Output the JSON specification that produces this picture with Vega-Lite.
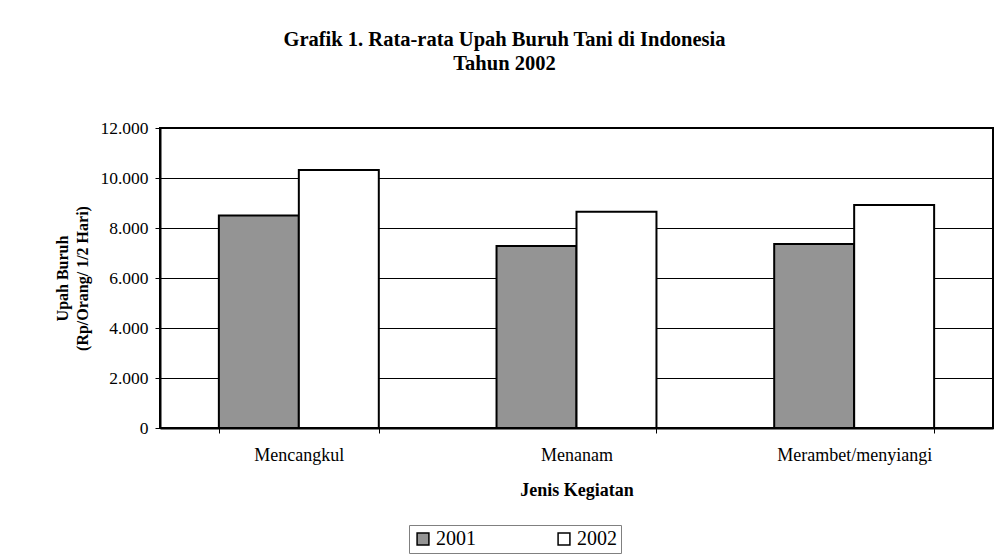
{
  "$schema": "https://vega.github.io/schema/vega-lite/v6.json",
  "width": 833,
  "height": 300,
  "autosize": {"type": "none"},
  "padding": {"left": 160, "top": 128, "right": 10, "bottom": 130},
  "background": "white",
  "title": {
    "text": ["Grafik 1. Rata-rata Upah Buruh Tani di Indonesia", "Tahun 2002"],
    "font": "Liberation Serif",
    "fontSize": 20.5,
    "fontWeight": "bold",
    "color": "black",
    "lineHeight": 24,
    "anchor": "middle",
    "frame": "group",
    "dx": -72,
    "offset": 45
  },
  "data": {
    "values": [
      {"kegiatan": "Mencangkul", "tahun": "2001", "upah": 8500},
      {"kegiatan": "Mencangkul", "tahun": "2002", "upah": 10320},
      {"kegiatan": "Menanam", "tahun": "2001", "upah": 7280},
      {"kegiatan": "Menanam", "tahun": "2002", "upah": 8650},
      {"kegiatan": "Merambet/menyiangi", "tahun": "2001", "upah": 7360},
      {"kegiatan": "Merambet/menyiangi", "tahun": "2002", "upah": 8920}
    ]
  },
  "mark": {"type": "bar", "stroke": "black", "strokeWidth": 2},
  "encoding": {
    "x": {
      "field": "kegiatan",
      "type": "nominal",
      "sort": null,
      "scale": {"paddingInner": 0.424, "paddingOuter": 0.212},
      "axis": {
        "title": "Jenis Kegiatan",
        "labelAngle": 0,
        "labelFontSize": 18,
        "tickBand": "extent",
        "tickSize": 5,
        "tickColor": "black",
        "domainColor": "black",
        "domainWidth": 2,
        "labelPadding": 13,
        "titleFontSize": 18,
        "titlePadding": 17,
        "grid": false
      }
    },
    "xOffset": {"field": "tahun", "type": "nominal", "scale": {"paddingInner": 0, "paddingOuter": 0}},
    "y": {
      "field": "upah",
      "type": "quantitative",
      "scale": {"domain": [0, 12000], "nice": false},
      "axis": {
        "title": ["Upah Buruh", "(Rp/Orang/ 1/2 Hari)"],
        "values": [0, 2000, 4000, 6000, 8000, 10000, 12000],
        "labelExpr": "replace(format(datum.value, ','), ',', '.')",
        "labelFontSize": 17.5,
        "tickSize": 5,
        "tickColor": "black",
        "domainColor": "black",
        "domainWidth": 2,
        "labelPadding": 7,
        "titleFontSize": 16,
        "titleLineHeight": 20,
        "titlePadding": 9,
        "grid": true,
        "gridColor": "black",
        "gridWidth": 1
      }
    },
    "fill": {
      "field": "tahun",
      "type": "nominal",
      "scale": {"domain": ["2001", "2002"], "range": ["#949494", "#ffffff"]},
      "legend": {
        "title": null,
        "orient": "none",
        "direction": "horizontal",
        "legendX": 249,
        "legendY": 397,
        "symbolType": "square",
        "symbolSize": 140,
        "symbolStrokeColor": "black",
        "symbolStrokeWidth": 1.5,
        "labelFontSize": 20,
        "labelOffset": 3,
        "columnPadding": 78,
        "padding": 4,
        "strokeColor": "#808080"
      }
    }
  },
  "config": {
    "font": "Liberation Serif",
    "view": {"stroke": "black", "strokeWidth": 2},
    "axis": {
      "labelFont": "Liberation Serif",
      "labelColor": "black",
      "titleFont": "Liberation Serif",
      "titleFontWeight": "bold",
      "titleColor": "black"
    },
    "legend": {"labelFont": "Liberation Serif", "labelColor": "black"}
  }
}
